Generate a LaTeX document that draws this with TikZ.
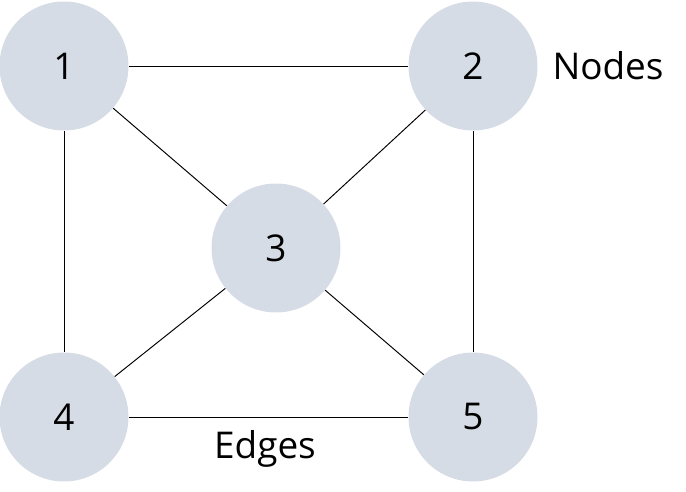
\documentclass[tikz,border=0pt]{standalone}
\usepackage{fontspec}
\setmainfont{Open Sans}
\usepackage{tikz}

\definecolor{nodefill}{RGB}{214,220,229}

\tikzset{
	vertex/.style={circle, fill=nodefill, minimum size=2.58cm, inner sep=0pt, font=\fontsize{21}{25}\selectfont},
	edge/.style={line width=0.55pt},
	caption/.style={font=\fontsize{21}{25}\selectfont}
}

\begin{document}
\begin{tikzpicture}[x=0.02cm, y=-0.02cm]

	\useasboundingbox (0,0) rectangle (686,492);

	\node[vertex] (v1) at (64,66) {1};
	\node[vertex] (v2) at (473,66) {2};
	\node[vertex] (v3) at (276,248) {3};
	\node[vertex] (v4) at (64,417) {4};
	\node[vertex] (v5) at (473,417) {5};
	
	\draw[edge] (v1) -- (v2);
	\draw[edge] (v1) -- (v3);
	\draw[edge] (v1) -- (v4);
	\draw[edge] (v2) -- (v3);
	\draw[edge] (v2) -- (v5);
	\draw[edge] (v3) -- (v4);
	\draw[edge] (v3) -- (v5);
	\draw[edge] (v4) -- (v5);
	
	\node[caption] (nodes) at (608,66) {Nodes};
	\node[caption] (edges) at (265,449) {Edges};

\end{tikzpicture}
\end{document}
